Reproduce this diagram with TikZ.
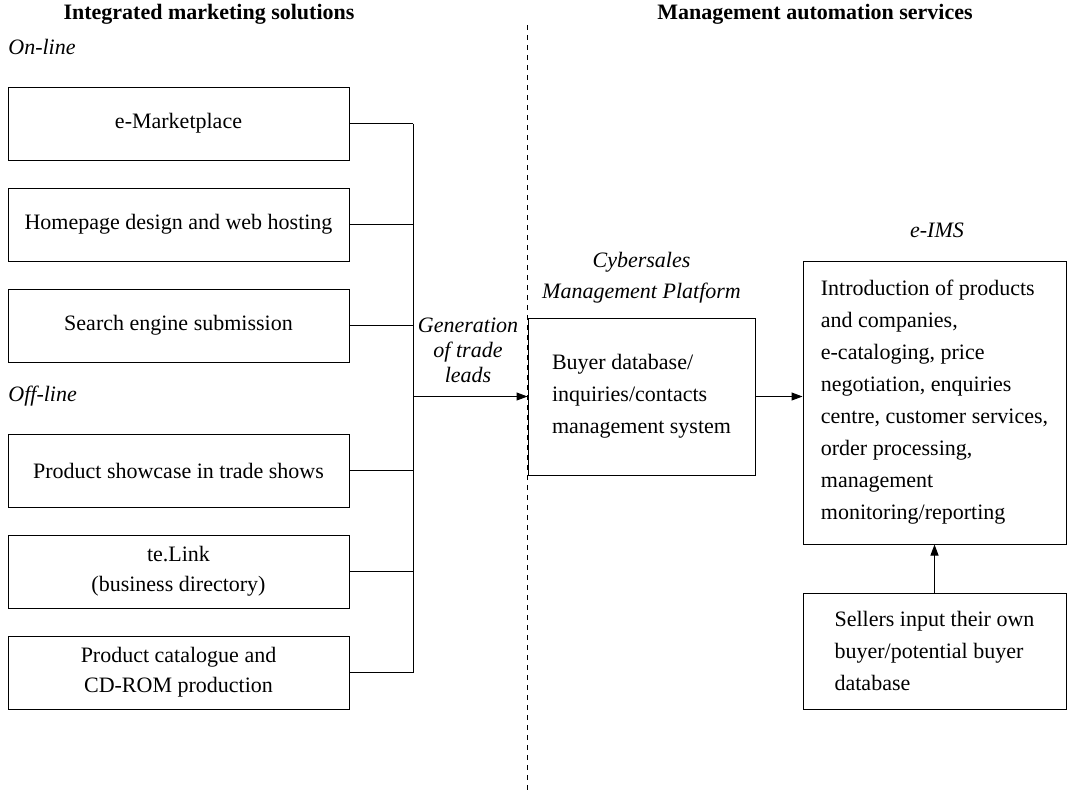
\documentclass[tikz,border=0pt]{standalone}
\usepackage{fontspec}
\setmainfont{Liberation Serif}
\usetikzlibrary{positioning,arrows.meta}

\begin{document}
\begin{tikzpicture}[
    x=0.5pt, y=-0.5pt,
    every node/.style={font=\fontsize{11}{16}\selectfont},
    box/.style={rectangle, draw, line width=0.5pt, minimum width=170.5pt, minimum height=36.5pt, align=center, inner sep=0pt, font=\fontsize{11}{15}\selectfont},
    infobox/.style={rectangle, draw, line width=0.5pt, align=left, inner sep=0pt, font=\fontsize{11}{16}\selectfont},
    title/.style={font=\fontsize{11}{15.5}\selectfont\itshape, align=center},
    heading/.style={font=\fontsize{11}{13}\selectfont\bfseries},
    side/.style={font=\fontsize{11}{13}\selectfont\itshape, anchor=west, inner sep=0pt},
    arrow/.style={-{Triangle[length=5.5pt,width=4pt]}, line width=0.5pt},
    link/.style={line width=0.5pt},
    node distance=13.5pt
]
\useasboundingbox (0,0) rectangle (1069,794);

\node[heading] (imshead) at (209,14) {Integrated marketing solutions};
\node[heading] (mashead) at (815,14) {Management automation services};
\node[side] (online) at (8,47) {On-line};
\node[side] (offline) at (8,396) {Off-line};

% on-line
\node[box] (emkt) at (178.5,123.5) {e-Marketplace};
\node[box, below=of emkt] (homepage) {Homepage design and web hosting};
\node[box, below=of homepage] (search) {Search engine submission};

% off-line
\node[box] (showcase) at (178.5,470.5) {Product showcase in trade shows};
\node[box, below=of showcase] (telink) {te.Link\\(business directory)};
\node[box, below=of telink] (catalogue) {Product catalogue and\\CD-ROM production};

\coordinate (bus) at (413,396.5);
\foreach \b in {emkt,homepage,search,showcase,telink,catalogue}
    \draw[link] (\b.east) -- (\b.east -| bus);
\draw[link] (emkt.east -| bus) -- (catalogue.east -| bus);

\node[title, font=\fontsize{11}{12.5}\selectfont\itshape] (leads) at (468,350) {Generation\\of trade\\leads};

\node[infobox, minimum width=113.5pt, minimum height=78.5pt] (cms) at (641.5,396.5) {Buyer database/\\inquiries/contacts\\management system};
\node[title] (cmstitle) at (641.5,278) {Cybersales\\Management Platform};

\node[infobox, minimum width=131.5pt, minimum height=141.5pt] (eims) at (934.5,402.5) {Introduction of products\\and companies,\\e-cataloging, price\\negotiation, enquiries\\centre, customer services,\\order processing,\\management\\monitoring/reporting};
\node[title] (eimstitle) at (937,230) {e-IMS};

\node[infobox, minimum width=131.5pt, minimum height=58pt] (sellers) at (934.5,651) {Sellers input their own\\buyer/potential buyer\\database};

\draw[arrow] (bus) -- (cms.west);
\draw[arrow] (cms.east) -- (cms.east -| eims.west);
\draw[arrow] (sellers.north) -- (eims.south);

% divider
\coordinate (divtop) at (527,25);
\coordinate (divbot) at (527,792);
\draw[dash pattern=on 2.25pt off 2.75pt, line width=0.5pt] (divtop) -- (divbot);

\end{tikzpicture}
\end{document}
